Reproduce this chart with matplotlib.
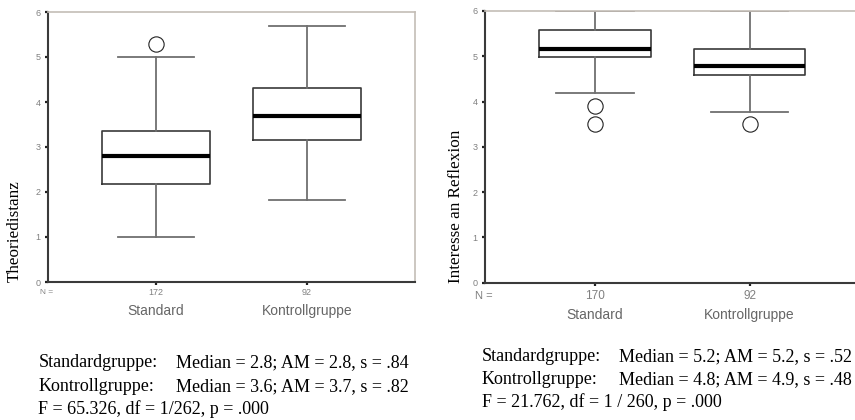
import matplotlib
matplotlib.use("Agg")
import matplotlib.pyplot as plt
from matplotlib.transforms import blended_transform_factory

groups = ['Standard', 'Kontrollgruppe']

# Theoriedistanz
n_theorie = [172, 92]
th_med = [2.81, 3.68]
th_q1 = [2.17, 3.15]
th_q3 = [3.36, 4.32]
th_lo = [1.0, 1.82]
th_hi = [5.0, 5.70]
th_fliers = [[5.30], []]

# Interesse an Reflexion
n_reflex = [170, 92]
rf_med = [5.17, 4.78]
rf_q1 = [4.98, 4.58]
rf_q3 = [5.59, 5.17]
rf_lo = [4.18, 3.76]
rf_hi = [6.0, 6.0]
rf_fliers = [[3.90, 3.50], [3.50]]

yticks = [0, 1, 2, 3, 4, 5, 6]

text_left = [("Standardgruppe:", "Median = 2.8; AM = 2.8, s = .84"),
             ("Kontrollgruppe:", "Median = 3.6; AM = 3.7, s = .82"),
             ("F = 65.326, df = 1/262, p = .000", "")]
text_right = [("Standardgruppe:", "Median = 5.2; AM = 5.2, s = .52"),
              ("Kontrollgruppe:", "Median = 4.8; AM = 4.9, s = .48"),
              ("F = 21.762, df = 1 / 260, p = .000", "")]

W, H = 855, 420
fig = plt.figure(figsize=(W / 100, H / 100), dpi=100)
serif = ['Liberation Serif', 'DejaVu Serif']
sans = ['Liberation Sans', 'DejaVu Sans']


def make_stats(med, q1, q3, lo, hi, fl):
    return [dict(med=med[i], q1=q1[i], q3=q3[i], whislo=lo[i], whishi=hi[i],
                 fliers=fl[i], label=groups[i]) for i in range(len(groups))]


def draw_box(rect, stats, xlim, ns, nsize, n_off, cat_off, ylabel, ylab_x):
    ax = fig.add_axes(rect)
    ax.bxp(stats, positions=[1, 2], widths=0.72, capwidths=0.5,
           boxprops=dict(color='#3a3a3a', linewidth=1.2),
           whiskerprops=dict(color='#707070', linewidth=1.3),
           capprops=dict(color='#707070', linewidth=1.3),
           medianprops=dict(color='black', linewidth=3),
           flierprops=dict(marker='o', markersize=11, markerfacecolor='white',
                           markeredgecolor='#222222', markeredgewidth=0.8))
    ax.set_xlim(*xlim)
    ax.set_ylim(0, 6)
    ax.set_yticks(yticks)
    ax.set_yticklabels([str(t) for t in yticks], fontsize=6.5, color='#808080',
                       family=sans)
    ax.set_xticks([1, 2])
    ax.set_xticklabels([])
    ax.tick_params(axis='both', length=2.5, width=1.6, color='#222222',
                   direction='out', pad=3)
    for s in ['left', 'bottom']:
        ax.spines[s].set_color('#3a3a3a')
        ax.spines[s].set_linewidth(1.5)
    for s in ['top', 'right']:
        ax.spines[s].set_color('#c4bdb6')
        ax.spines[s].set_linewidth(1.2)
    tr = blended_transform_factory(ax.transData, ax.transAxes)
    h_ax = rect[3] * H
    w_ax = rect[2] * W
    for i, n in enumerate(ns):
        ax.text(i + 1, -n_off / h_ax, str(n), transform=tr, ha='center',
                va='center', fontsize=nsize, color='#808080', family=sans)
        ax.text(i + 1, -cat_off / h_ax, groups[i], transform=tr, ha='center',
                va='center', fontsize=10, color='#666666', family=sans)
    ax.text(-1.5 / w_ax, -n_off / h_ax, 'N =', transform=ax.transAxes,
            ha='center', va='center', fontsize=nsize - 0.5, color='#808080',
            family=sans)
    fig.text(ylab_x / W, rect[1], ylabel, rotation=90, ha='center', va='bottom',
             fontsize=12.3, family=serif, color='black')
    return ax


draw_box([48 / W, 1 - 282 / H, 367 / W, 270 / H],
         make_stats(th_med, th_q1, th_q3, th_lo, th_hi, th_fliers),
         (0.285, 2.715), n_theorie, 6.5, 10.5, 29, 'Theoriedistanz', 15)

draw_box([485 / W, 1 - 282.7 / H, 378 / W, 271.7 / H],
         make_stats(rf_med, rf_q1, rf_q3, rf_lo, rf_hi, rf_fliers),
         (0.29, 2.733), n_reflex, 8.5, 13, 32, 'Interesse an Reflexion', 456)

for lines, x0, x1, ys in [(text_left, 38.3, 176, [367, 390.7, 414]),
                          (text_right, 481.7, 619.3, [360.7, 384, 407.3])]:
    for (a, b), y in zip(lines, ys):
        fig.text(x0 / W, 1 - y / H, a, ha='left', va='baseline', fontsize=13,
                 family=serif)
        if b:
            fig.text(x1 / W, 1 - y / H, b, ha='left', va='baseline', fontsize=13,
                     family=serif)

fig.savefig('out.png', dpi=100)
